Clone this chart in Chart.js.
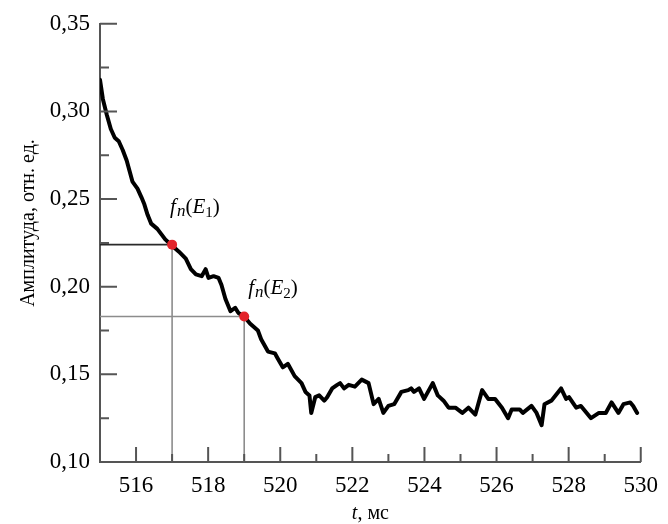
<!DOCTYPE html>
<html>
<head>
<meta charset="utf-8">
<script src="https://cdn.jsdelivr.net/npm/chart.js@4.4.0/dist/chart.umd.min.js"></script>
<style>
	html, body { margin: 0; padding: 0; background: #fff; }
	.chartWidth { width: 668px; height: 524px; }
	.preload { font-family: "Liberation Serif"; position: absolute; left: -999px; }
</style>
</head>
<body>
<span class="preload">0,35 <i>t</i> мс</span>
<div class="chartWidth"><canvas id="myChart"></canvas></div>
<script>
// time, ms
const times = [515.00, 515.08, 515.19, 515.30, 515.41, 515.52, 515.63, 515.74, 515.82,
	515.90, 516.04, 516.15, 516.23, 516.32, 516.42, 516.59, 516.70, 516.81, 516.97,
	517.19, 517.38, 517.52, 517.66, 517.82, 517.93, 518.01, 518.15, 518.29, 518.37,
	518.48, 518.62, 518.75, 518.84, 519.00, 519.16, 519.38, 519.47, 519.66, 519.85,
	519.93, 520.07, 520.21, 520.40, 520.59, 520.70, 520.81, 520.86, 520.97, 521.08,
	521.22, 521.30, 521.44, 521.58, 521.66, 521.77, 521.90, 522.07, 522.26, 522.45,
	522.59, 522.73, 522.86, 523.00, 523.16, 523.36, 523.55, 523.63, 523.71, 523.85,
	523.99, 524.23, 524.37, 524.53, 524.67, 524.86, 525.05, 525.22, 525.41, 525.60,
	525.77, 525.96, 526.15, 526.32, 526.42, 526.64, 526.73, 526.97, 527.11, 527.25,
	527.33, 527.52, 527.79, 527.93, 528.01, 528.21, 528.34, 528.62, 528.84, 529.03,
	529.19, 529.38, 529.52, 529.71, 529.79, 529.90];

// amplitude, rel. units
const amplitudes = [0.318, 0.307, 0.298, 0.290, 0.285, 0.283, 0.278, 0.272, 0.266,
	0.260, 0.256, 0.251, 0.247, 0.241, 0.236, 0.233, 0.230, 0.227, 0.224,
	0.220, 0.216, 0.210, 0.207, 0.206, 0.210, 0.205, 0.206, 0.205, 0.201,
	0.193, 0.186, 0.188, 0.185, 0.183, 0.179, 0.175, 0.170, 0.163, 0.162,
	0.159, 0.154, 0.156, 0.149, 0.145, 0.140, 0.138, 0.128, 0.137, 0.138,
	0.135, 0.137, 0.142, 0.144, 0.145, 0.142, 0.144, 0.143, 0.147, 0.145,
	0.133, 0.136, 0.128, 0.132, 0.133, 0.140, 0.141, 0.142, 0.140, 0.142,
	0.136, 0.145, 0.138, 0.135, 0.131, 0.131, 0.128, 0.131, 0.127, 0.141,
	0.136, 0.136, 0.131, 0.125, 0.130, 0.130, 0.128, 0.132, 0.128, 0.121,
	0.133, 0.135, 0.142, 0.136, 0.137, 0.131, 0.132, 0.125, 0.128, 0.128,
	0.134, 0.128, 0.133, 0.134, 0.132, 0.128];

// marked points fn(E1), fn(E2)
const markerTimes = [517, 519];
const markerValues = [0.224, 0.183];
const markerNames = ["1", "2"];

const xTicks = [516, 518, 520, 522, 524, 526, 528, 530];
const xMinorTicks = [517, 519, 521, 523, 525, 527, 529];
const yTicks = [0.10, 0.15, 0.20, 0.25, 0.30, 0.35];
const yMinorTicks = [0.125, 0.175, 0.225, 0.275, 0.325];

const serif = "'Liberation Serif'";
const axisColor = "#555";

const curve = times.map((t, i) => ({ x: t, y: amplitudes[i] }));
const markers = markerTimes.map((t, i) => ({ x: t, y: markerValues[i] }));

// inward tick marks, axis titles and point labels
const decorations = {
	id: "decorations",
	afterDraw(chart) {
		const ctx = chart.ctx;
		const xs = chart.scales.x;
		const ys = chart.scales.y;
		const x0 = xs.left, y0 = ys.bottom;

		ctx.save();
		ctx.strokeStyle = axisColor;
		ctx.lineWidth = 2;
		ctx.beginPath();
		yTicks.forEach(v => { const p = ys.getPixelForValue(v); ctx.moveTo(x0, p); ctx.lineTo(x0 + 17, p); });
		yMinorTicks.forEach(v => { const p = ys.getPixelForValue(v); ctx.moveTo(x0, p); ctx.lineTo(x0 + 9, p); });
		xTicks.forEach(v => { const p = xs.getPixelForValue(v); ctx.moveTo(p, y0); ctx.lineTo(p, y0 - 15); });
		xMinorTicks.forEach(v => { const p = xs.getPixelForValue(v); ctx.moveTo(p, y0); ctx.lineTo(p, y0 - 8); });
		ctx.stroke();

		ctx.fillStyle = "#000";
		ctx.textBaseline = "alphabetic";

		// y title
		ctx.save();
		ctx.translate(34, 223);
		ctx.rotate(-Math.PI / 2);
		ctx.font = "20px " + serif;
		ctx.textAlign = "center";
		ctx.fillText("Амплитуда, отн. ед.", 0, 0);
		ctx.restore();

		// x title: "t, мс"
		const tx = (xs.left + xs.right) / 2;
		ctx.font = "italic 20px " + serif;
		const wT = ctx.measureText("t").width;
		ctx.font = "20px " + serif;
		const wRest = ctx.measureText(", мс").width;
		const sx = tx - (wT + wRest) / 2;
		ctx.textAlign = "left";
		ctx.font = "italic 20px " + serif;
		ctx.fillText("t", sx, 519);
		ctx.font = "20px " + serif;
		ctx.fillText(", мс", sx + wT, 519);

		// fn(Ei) labels
		const offsets = [[-2, -32], [4, -23]];
		markers.forEach((m, i) => {
			let px = xs.getPixelForValue(m.x) + offsets[i][0];
			const py = ys.getPixelForValue(m.y) + offsets[i][1];
			const parts = [
				["italic 21px " + serif, "f", 0],
				["italic 17px " + serif, "n", 3],
				["21px " + serif, "(", 0],
				["italic 21px " + serif, "E", 0],
				["15px " + serif, markerNames[i], 4],
				["21px " + serif, ")", 0]
			];
			parts.forEach(([font, txt, dy]) => {
				ctx.font = font;
				ctx.fillText(txt, px, py + dy);
				px += ctx.measureText(txt).width + (txt === "f" ? 1 : 0);
			});
		});
		ctx.restore();
	}
};

const guideLines = [];
markers.forEach((m, i) => {
	guideLines.push({
		data: [{ x: 515, y: m.y }, { x: m.x, y: m.y }],
		borderColor: i === 0 ? "#2a2a2a" : "#8c8c8c",
		borderWidth: 1.6,
		pointRadius: 0
	});
	guideLines.push({
		data: [{ x: m.x, y: 0.10 }, { x: m.x, y: m.y }],
		borderColor: "#8c8c8c",
		borderWidth: 1.6,
		pointRadius: 0
	});
});

function buildChart() {
	new Chart(document.getElementById("myChart"), {
		type: "line",
		data: {
			datasets: [
				{
					data: markers,
					showLine: false,
					pointRadius: 5,
					pointBackgroundColor: "#e3242b",
					pointBorderColor: "#e3242b",
					pointBorderWidth: 0
				},
				{
					data: curve,
					borderColor: "#000",
					borderWidth: 4,
					pointRadius: 0,
					tension: 0,
					borderJoinStyle: "round",
					borderCapStyle: "round"
				},
				...guideLines
			]
		},
		options: {
			responsive: true,
			maintainAspectRatio: false,
			animation: false,
			events: [],
			layout: { padding: { top: 20, right: 22, left: 0, bottom: 0 } },
			plugins: { legend: { display: false }, tooltip: { enabled: false } },
			scales: {
				x: {
					type: "linear",
					min: 515,
					max: 530,
					afterBuildTicks: axis => { axis.ticks = xTicks.map(v => ({ value: v })); },
					afterFit: axis => { axis.height = 62; },
					grid: { display: false, drawTicks: false },
					border: { display: true, color: axisColor, width: 2 },
					ticks: {
						padding: 10,
						maxRotation: 0,
						color: "#000",
						font: { family: serif, size: 23 }
					}
				},
				y: {
					min: 0.10,
					max: 0.35,
					afterBuildTicks: axis => { axis.ticks = yTicks.map(v => ({ value: v })); },
					afterFit: axis => { axis.width = 100; },
					grid: { display: false, drawTicks: false },
					border: { display: true, color: axisColor, width: 2 },
					ticks: {
						padding: 10,
						color: "#000",
						font: { family: serif, size: 23 },
						callback: v => v.toFixed(2).replace(".", ",")
					}
				}
			}
		},
		plugins: [decorations]
	});
}

Promise.all([
	document.fonts.load("21px 'Liberation Serif'"),
	document.fonts.load("italic 21px 'Liberation Serif'")
]).catch(() => {}).then(buildChart);
</script>
</body>
</html>
